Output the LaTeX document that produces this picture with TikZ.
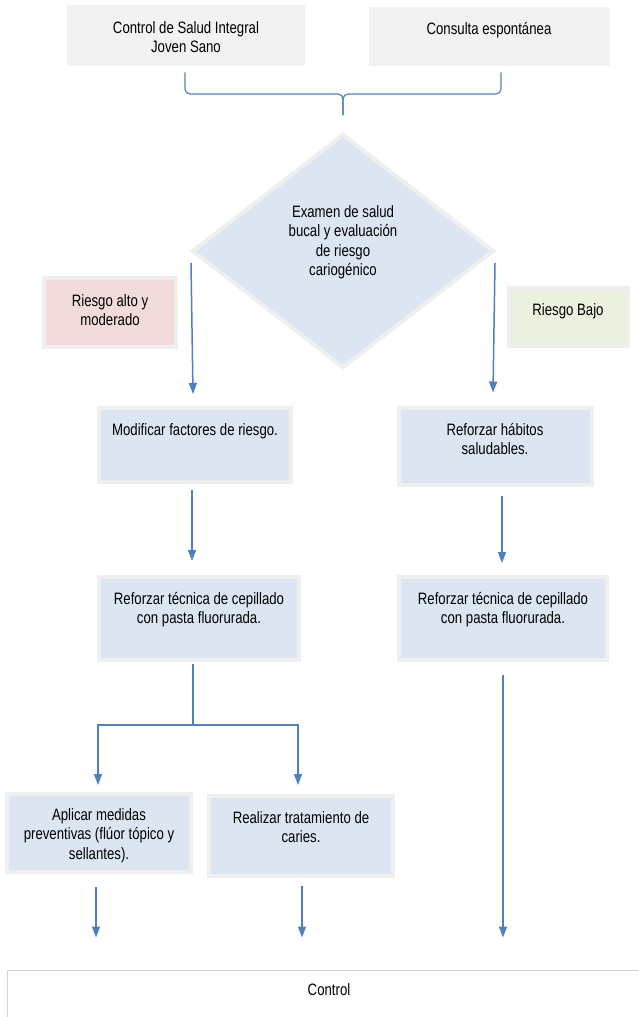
\documentclass[tikz,border=0pt]{standalone}
\usepackage{fontspec}
\setmainfont{Liberation Sans}[FakeStretch=0.8]
\usetikzlibrary{arrows.meta,calc,shapes.geometric}
\definecolor{ablue}{HTML}{4F81BD}
\definecolor{lblue}{HTML}{DCE6F2}
\definecolor{frm}{HTML}{EFEFEF}
\definecolor{tgray}{HTML}{F2F2F2}
\definecolor{lpink}{HTML}{F2DCDB}
\definecolor{lgreen}{HTML}{EBF1DE}
\definecolor{cgray}{HTML}{D4D4D4}
\tikzset{
  >={Triangle[length=11pt,width=8pt]},
  bx/.style={rectangle,draw=frm,line width=4pt,fill=lblue,inner sep=0pt},
  tbx/.style={rectangle,fill=tgray,inner sep=0pt},
  lb/.style={anchor=north,align=center,inner sep=0pt,font=\fontsize{16.5}{19.5}\selectfont},
  ar/.style={draw=ablue,line width=1.5pt},
  brc/.style={draw=ablue,line width=1.2pt,rounded corners=5pt},
  every picture/.style={line width=0.5pt},
}
\begin{document}
\begin{tikzpicture}[x=1pt,y=-1pt]
\useasboundingbox (0,0) rectangle (639,1017);
% boxes
\node[tbx,minimum width=238pt,minimum height=61pt] (top1) at (186,35.5){};
\node[tbx,minimum width=241pt,minimum height=59pt] (top2) at (489.5,36.5){};
\node[diamond,draw=frm,line width=4pt,fill=lblue,inner sep=0pt,minimum width=302pt,minimum height=234pt] (exa) at (343,251){};
\node[bx,fill=lpink,minimum width=132pt,minimum height=69pt] (ralto) at (110,312.5){};
\node[bx,fill=lgreen,minimum width=119pt,minimum height=58pt] (rbajo) at (568.5,317){};
\node[bx,minimum width=192pt,minimum height=74pt] (mod) at (195,445){};
\node[bx,minimum width=193pt,minimum height=77pt] (hab) at (495.5,446.5){};
\node[bx,minimum width=200pt,minimum height=83pt] (tec1) at (199,618.5){};
\node[bx,minimum width=208pt,minimum height=83pt] (tec2) at (503,618.5){};
\node[bx,minimum width=184pt,minimum height=78pt] (apl) at (99,833){};
\node[bx,minimum width=184pt,minimum height=80pt] (rea) at (301,836){};
\node[rectangle,draw=cgray,line width=1pt,fill=white,minimum width=644pt,minimum height=70pt] (ctl) at (329,1005){};
% texts
\node[lb] (top1t) at (186,21){Control de Salud Integral\\Joven Sano};
\node[lb] (top2t) at (489,22){Consulta espontánea};
\node[lb] (exat) at (343,205){Examen de salud\\bucal y evaluación\\de riesgo\\cariogénico};
\node[lb] (raltot) at (110,294){Riesgo alto y\\moderado};
\node[lb] (rbajot) at (568,303){Riesgo Bajo};
\node[lb] (modt) at (195,423){Modificar factores de riesgo.};
\node[lb] (habt) at (495,423){Reforzar hábitos\\saludables.};
\node[lb] (tec1t) at (199,592){Reforzar técnica de cepillado\\con pasta fluorurada.};
\node[lb] (tec2t) at (503,592){Reforzar técnica de cepillado\\con pasta fluorurada.};
\node[lb] (aplt) at (99,808){Aplicar medidas\\preventivas (flúor tópico y\\sellantes).};
\node[lb] (reat) at (301,811){Realizar tratamiento de\\caries.};
\node[lb] (ctlt) at (329,983){Control};
% brace
\draw[brc] ([shift={(-1,6)}]top1.south) |- ([shift={(0,-38)}]exa.north) -- ([shift={(0,-17)}]exa.north);
\draw[brc] ([shift={(11.5,6)}]top2.south) |- ([shift={(0,-38)}]exa.north) -- ([shift={(0,-17)}]exa.north);
% arrows
\draw[ar,->] ([shift={(1,12)}]exa.west) -- ([shift={(-2,-12)}]mod.north);
\draw[ar,->] ([shift={(-1,12)}]exa.east) -- ([shift={(-2.5,-13.5)}]hab.north);
\draw[ar,->] ([shift={(-3,6)}]mod.south) -- ([shift={(-7,-14)}]tec1.north);
\draw[ar,->] ([shift={(6.5,8.5)}]hab.south) -- ([shift={(-1,-12)}]tec2.north);
\coordinate (fork) at ([shift={(-6,63)}]tec1.south);
\draw[ar] ([shift={(-6,2)}]tec1.south) -- (fork);
\draw[ar,->] (fork) -| ([shift={(-1,-7)}]apl.north);
\draw[ar,->] (fork) -| ([shift={(-3,-9)}]rea.north);
\draw[ar,->] ([shift={(0,13)}]tec2.south) -- ($(tec2.south |- ctl.north)+(0,-32)$);
\draw[ar,->] ([shift={(-3,13)}]apl.south) -- ($(apl.south |- ctl.north)+(-3,-32)$);
\draw[ar,->] ([shift={(1,8)}]rea.south) -- ($(rea.south |- ctl.north)+(1,-32)$);
\end{tikzpicture}
\end{document}
